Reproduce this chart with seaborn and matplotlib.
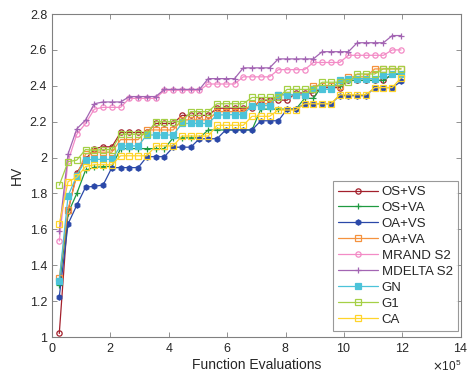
import numpy as np
import pandas as pd
import matplotlib
matplotlib.use("Agg")
import matplotlib.pyplot as plt
import seaborn as sns

# Function evaluations (checkpoints)
evals = [25000, 55000, 85000, 115000, 145000, 175000, 205000, 235000, 265000, 295000,
         325000, 355000, 385000, 415000, 445000, 475000, 505000, 535000, 565000, 595000,
         625000, 655000, 685000, 715000, 745000, 775000, 805000, 835000, 865000, 895000,
         925000, 955000, 985000, 1015000, 1045000, 1075000, 1105000, 1135000, 1165000, 1195000]

series_names = ["OS+VS", "OS+VA", "OA+VS", "OA+VA", "MRAND S2", "MDELTA S2", "GN", "G1", "CA"]

os_vs = [1.02, 1.70, 1.915, 1.99, 2.05, 2.06, 2.06, 2.14, 2.14, 2.14, 2.14, 2.19, 2.19, 2.19,
         2.235, 2.235, 2.235, 2.235, 2.275, 2.275, 2.275, 2.275, 2.275, 2.32, 2.32, 2.32, 2.32,
         2.36, 2.36, 2.36, 2.39, 2.39, 2.39, 2.43, 2.43, 2.43, 2.43, 2.43, 2.465, 2.465]
os_va = [1.29, 1.69, 1.80, 1.93, 1.945, 1.95, 1.95, 2.05, 2.05, 2.05, 2.05, 2.05, 2.05, 2.11,
         2.11, 2.11, 2.11, 2.154, 2.154, 2.154, 2.154, 2.154, 2.154, 2.27, 2.27, 2.27, 2.27,
         2.27, 2.33, 2.33, 2.40, 2.40, 2.40, 2.43, 2.43, 2.43, 2.43, 2.43, 2.465, 2.465]
oa_vs = [1.225, 1.63, 1.735, 1.835, 1.84, 1.847, 1.944, 1.944, 1.944, 1.944, 2.005, 2.005,
         2.005, 2.058, 2.058, 2.058, 2.105, 2.105, 2.105, 2.154, 2.154, 2.154, 2.154, 2.205,
         2.205, 2.205, 2.27, 2.27, 2.30, 2.30, 2.30, 2.30, 2.345, 2.345, 2.345, 2.345, 2.39,
         2.39, 2.39, 2.424]
oa_va = [1.327, 1.71, 1.90, 2.02, 2.03, 2.03, 2.03, 2.10, 2.10, 2.10, 2.154, 2.154, 2.154,
         2.154, 2.21, 2.21, 2.21, 2.21, 2.256, 2.256, 2.256, 2.256, 2.30, 2.30, 2.30, 2.35,
         2.35, 2.35, 2.35, 2.40, 2.40, 2.40, 2.40, 2.45, 2.45, 2.45, 2.494, 2.494, 2.494, 2.494]
mrand_s2 = [1.535, 1.98, 2.13, 2.19, 2.27, 2.28, 2.28, 2.28, 2.33, 2.33, 2.33, 2.33, 2.375,
            2.375, 2.375, 2.375, 2.375, 2.41, 2.41, 2.41, 2.41, 2.45, 2.45, 2.45, 2.45, 2.49,
            2.49, 2.49, 2.49, 2.53, 2.53, 2.53, 2.53, 2.57, 2.57, 2.57, 2.57, 2.57, 2.60, 2.60]
mdelta_s2 = [1.59, 2.02, 2.16, 2.21, 2.30, 2.31, 2.31, 2.31, 2.34, 2.34, 2.34, 2.34, 2.38,
             2.38, 2.38, 2.38, 2.38, 2.44, 2.44, 2.44, 2.44, 2.50, 2.50, 2.50, 2.50, 2.55,
             2.55, 2.55, 2.55, 2.55, 2.59, 2.59, 2.59, 2.59, 2.64, 2.64, 2.64, 2.64, 2.68, 2.68]
gn = [1.314, 1.786, 1.90, 1.987, 1.99, 1.99, 1.99, 2.065, 2.065, 2.065, 2.126, 2.126, 2.126,
      2.126, 2.19, 2.19, 2.19, 2.19, 2.238, 2.238, 2.24, 2.24, 2.29, 2.29, 2.29, 2.35, 2.35,
      2.35, 2.35, 2.38, 2.38, 2.38, 2.43, 2.44, 2.44, 2.44, 2.44, 2.46, 2.467, 2.467]
g1 = [1.846, 1.977, 1.986, 2.045, 2.04, 2.045, 2.045, 2.13, 2.13, 2.13, 2.13, 2.20, 2.20,
      2.20, 2.20, 2.256, 2.256, 2.256, 2.30, 2.30, 2.30, 2.30, 2.335, 2.335, 2.335, 2.335,
      2.38, 2.38, 2.38, 2.38, 2.42, 2.42, 2.42, 2.42, 2.466, 2.466, 2.466, 2.495, 2.495, 2.495]
ca = [1.63, 1.866, 1.89, 1.95, 1.96, 1.96, 1.96, 2.01, 2.01, 2.01, 2.01, 2.065, 2.065, 2.065,
      2.12, 2.12, 2.12, 2.12, 2.18, 2.18, 2.18, 2.18, 2.23, 2.23, 2.23, 2.265, 2.265, 2.265,
      2.30, 2.30, 2.30, 2.30, 2.35, 2.35, 2.35, 2.35, 2.39, 2.39, 2.39, 2.445]

values = [os_vs, os_va, oa_vs, oa_va, mrand_s2, mdelta_s2, gn, g1, ca]

colors = ["#A3202C", "#1F9A40", "#2A48A8", "#F5923E", "#F38BC6", "#A365B3", "#4CC3D9",
          "#A5D046", "#FFD42A"]
markers = ["o", "+", "h", "s", "o", "+", "s", "s", "s"]
filled = [False, True, True, False, False, True, True, False, False]

sns.set_style("ticks")
plt.rcParams["font.family"] = ["Liberation Sans", "DejaVu Sans"]

fig = plt.figure(figsize=(4.70, 3.83), dpi=100)
ax = fig.add_axes([0.1106, 0.12, 0.8700, 0.8434])

for name, vals, col, mk, fl in zip(series_names, values, colors, markers, filled):
    df = pd.DataFrame({"Function Evaluations": evals, "HV": vals})
    kw = dict(marker=mk, markersize=3.8 if mk != "+" else 4.8, markeredgewidth=0.9,
              markeredgecolor=col, linewidth=0.9, color=col)
    kw["markerfacecolor"] = col if fl else "none"
    sns.lineplot(data=df, x="Function Evaluations", y="HV", ax=ax, label=name,
                 estimator=None, sort=False, **kw)

ax.set_xlim(0, 1.4e6)
ax.set_ylim(1, 2.8)
ax.set_xticks(np.arange(0, 1.41e6, 2e5))
ax.set_yticks(np.arange(1, 2.81, 0.2))
ax.set_yticklabels(["1", "1.2", "1.4", "1.6", "1.8", "2", "2.2", "2.4", "2.6", "2.8"])
ax.ticklabel_format(axis="x", style="sci", scilimits=(5, 5), useMathText=True)
ax.xaxis.get_offset_text().set_fontsize(8.5)
ax.xaxis.get_offset_text().set_color("#333333")

ax.tick_params(direction="in", length=3.5, width=0.6, colors="#808080",
               labelcolor="#262626", labelsize=9, top=True, right=True)
for sp in ax.spines.values():
    sp.set_visible(True)
    sp.set_color("#808080")
    sp.set_linewidth(0.8)

ax.set_xlabel("Function Evaluations", fontsize=10, color="#262626", labelpad=2)
ax.set_ylabel("HV", fontsize=10, color="#262626", labelpad=4)

leg = ax.legend(loc="lower right", bbox_to_anchor=(0.993, 0.019), borderaxespad=0,
                fontsize=9.5, frameon=True, fancybox=False, edgecolor="#808080",
                handlelength=3.0, handletextpad=0.3, labelspacing=0.28,
                borderpad=0.4)
leg.get_frame().set_linewidth(0.8)
for t in leg.get_texts():
    t.set_color("#262626")

fig.savefig("out.png", dpi=100)
